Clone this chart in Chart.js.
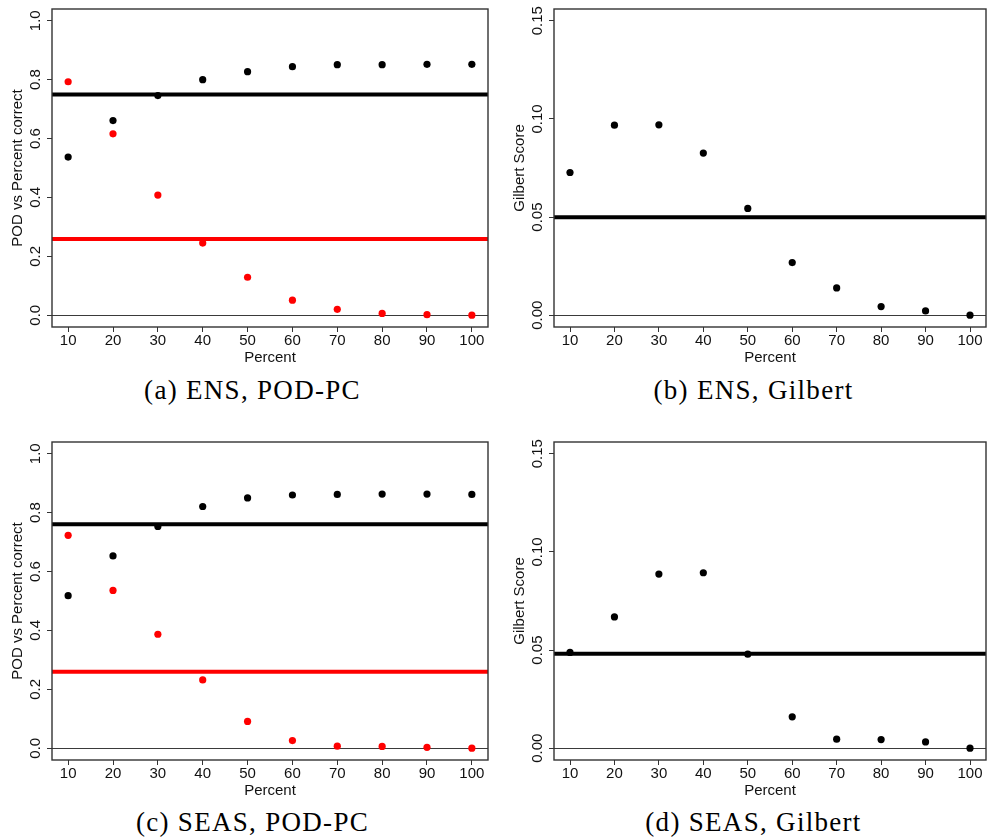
<!DOCTYPE html>
<html>
<head>
<meta charset="utf-8">
<script src="https://cdn.jsdelivr.net/npm/chart.js@4/dist/chart.umd.min.js"></script>
<style>
  html, body { margin: 0; padding: 0; background: #fff; }
  body { width: 990px; height: 837px; position: relative; overflow: hidden; }
  .panel { position: absolute; width: 495px; height: 372px; }
  .caption {
    position: absolute; width: 495px; text-align: center;
    font-family: "Liberation Serif", serif; font-size: 27px; letter-spacing: 1.3px;
    color: #000; line-height: 30px;
  }
</style>
</head>
<body>
<div class="panel" style="left:0;top:0"><canvas id="chartA" width="495" height="372"></canvas></div>
<div class="panel" style="left:495px;top:0"><canvas id="chartB" width="495" height="372"></canvas></div>
<div class="panel" style="left:0;top:433px"><canvas id="chartC" width="495" height="372"></canvas></div>
<div class="panel" style="left:495px;top:433px"><canvas id="chartD" width="495" height="372"></canvas></div>
<div class="caption" style="left:5px;top:375px">(a) ENS, POD-PC</div>
<div class="caption" style="left:506px;top:375px">(b) ENS, Gilbert</div>
<div class="caption" style="left:5px;top:807px">(c) SEAS, POD-PC</div>
<div class="caption" style="left:506px;top:807px">(d) SEAS, Gilbert</div>

<script>
// x categories (percent threshold)
const percents = [10, 20, 30, 40, 50, 60, 70, 80, 90, 100];

// ENS
const ensPC = [0.537, 0.661, 0.746, 0.800, 0.827, 0.844, 0.851, 0.851, 0.852, 0.852];
const ensPOD = [0.793, 0.616, 0.408, 0.245, 0.129, 0.051, 0.020, 0.006, 0.002, 0.000];
const ensPCRef = 0.750;
const ensPODRef = 0.259;
const ensGilbert = [0.0727, 0.0968, 0.0970, 0.0826, 0.0544, 0.0268, 0.0139, 0.0044, 0.0022, 0.0000];
const ensGilbertRef = 0.0499;

// SEAS
const seasPC = [0.518, 0.653, 0.753, 0.821, 0.850, 0.860, 0.862, 0.863, 0.863, 0.862];
const seasPOD = [0.723, 0.536, 0.387, 0.232, 0.091, 0.026, 0.007, 0.006, 0.003, 0.000];
const seasPCRef = 0.761;
const seasPODRef = 0.260;
const seasGilbert = [0.0488, 0.0669, 0.0887, 0.0894, 0.0479, 0.0160, 0.0046, 0.0044, 0.0032, 0.0000];
const seasGilbertRef = 0.0481;

// ticks
const xTicks = [10, 20, 30, 40, 50, 60, 70, 80, 90, 100];
const pcTicks = [0, 0.2, 0.4, 0.6, 0.8, 1.0];
const pcTickLabels = ['0.0', '0.2', '0.4', '0.6', '0.8', '1.0'];
const gilbertTicks = [0, 0.05, 0.10, 0.15];
const gilbertTickLabels = ['0.00', '0.05', '0.10', '0.15'];

const SANS = '"Liberation Sans", Arial, sans-serif';

function pts(values) {
  return values.map((v, i) => ({ x: percents[i], y: v }));
}

// R-style 4% axis extension
function extend(lo, hi) {
  const d = (hi - lo) * 0.04;
  return [lo - d, hi + d];
}

// box around plot region + horizontal reference lines + rotated y tick labels
const rPlot = {
  id: 'rPlot',
  beforeDatasetsDraw(chart, args, opts) {
    const { ctx, chartArea: a, scales: { y } } = chart;
    ctx.save();
    // thin zero line
    ctx.strokeStyle = '#3a3a3a';
    ctx.lineWidth = 1;
    let py = Math.round(y.getPixelForValue(0)) + 0.5;
    ctx.beginPath(); ctx.moveTo(a.left, py); ctx.lineTo(a.right, py); ctx.stroke();
    (opts.lines || []).forEach(l => {
      ctx.strokeStyle = l.color;
      ctx.lineWidth = 4;
      const p = y.getPixelForValue(l.value);
      ctx.beginPath(); ctx.moveTo(a.left, p); ctx.lineTo(a.right, p); ctx.stroke();
    });
    ctx.restore();
  },
  afterDraw(chart, args, opts) {
    const { ctx, chartArea: a, scales: { y } } = chart;
    ctx.save();
    ctx.strokeStyle = '#333';
    ctx.lineWidth = 1.4;
    ctx.strokeRect(a.left, a.top, a.right - a.left, a.bottom - a.top);
    ctx.fillStyle = '#111';
    ctx.font = '15px ' + SANS;
    ctx.textAlign = 'center';
    ctx.textBaseline = 'middle';
    y.ticks.forEach((t, i) => {
      const p = y.getPixelForValue(t.value);
      ctx.save();
      ctx.translate(a.left - 16, p);
      ctx.rotate(-Math.PI / 2);
      ctx.fillText(opts.tickLabels[i], 0, 0);
      ctx.restore();
    });
    ctx.restore();
  }
};

function makeChart(id, datasets, yTicks, yTickLabels, yTitle, lines, yWidth, rightPad, titlePad) {
  const [xmin, xmax] = extend(xTicks[0], xTicks[xTicks.length - 1]);
  const [ymin, ymax] = extend(yTicks[0], yTicks[yTicks.length - 1]);
  return new Chart(document.getElementById(id), {
    type: 'scatter',
    data: { datasets: datasets },
    options: {
      responsive: false,
      animation: false,
      layout: { padding: { top: 9, right: rightPad, bottom: 0, left: 0 } },
      plugins: {
        legend: { display: false },
        tooltip: { enabled: false },
        rPlot: { lines: lines, tickLabels: yTickLabels }
      },
      elements: { point: { radius: 3.6, borderWidth: 0 } },
      scales: {
        x: {
          type: 'linear', min: xmin, max: xmax,
          afterBuildTicks: s => { s.ticks = xTicks.map(v => ({ value: v })); },
          afterFit: s => { s.height = 45; },
          grid: { drawOnChartArea: false, drawTicks: true, tickLength: 5, color: '#333', lineWidth: 1 },
          border: { display: false },
          ticks: { color: '#111', font: { family: SANS, size: 15 }, padding: 0, maxRotation: 0, autoSkip: false,
                   callback: v => String(v) },
          title: { display: true, text: 'Percent', color: '#111', font: { family: SANS, size: 15 },
                   padding: { top: 0, bottom: 5 } }
        },
        y: {
          type: 'linear', min: ymin, max: ymax,
          afterBuildTicks: s => { s.ticks = yTicks.map(v => ({ value: v })); },
          afterFit: s => { s.width = yWidth; },
          grid: { drawOnChartArea: false, drawTicks: true, tickLength: 5, color: '#333', lineWidth: 1 },
          border: { display: false },
          ticks: { display: false },
          title: { display: true, text: yTitle, color: '#111', font: { family: SANS, size: 15 },
                   padding: { top: titlePad, bottom: 0 } }
        }
      }
    },
    plugins: [rPlot]
  });
}

makeChart('chartA', [
  { data: pts(ensPC), backgroundColor: '#000' },
  { data: pts(ensPOD), backgroundColor: '#ff0000' }
], pcTicks, pcTickLabels, 'POD vs Percent correct',
  [{ value: ensPCRef, color: '#000' }, { value: ensPODRef, color: '#ff0000' }], 52, 7, 9);

makeChart('chartB', [
  { data: pts(ensGilbert), backgroundColor: '#000' }
], gilbertTicks, gilbertTickLabels, 'Gilbert Score',
  [{ value: ensGilbertRef, color: '#000' }], 59, 1, 16);

makeChart('chartC', [
  { data: pts(seasPC), backgroundColor: '#000' },
  { data: pts(seasPOD), backgroundColor: '#ff0000' }
], pcTicks, pcTickLabels, 'POD vs Percent correct',
  [{ value: seasPCRef, color: '#000' }, { value: seasPODRef, color: '#ff0000' }], 52, 7, 9);

makeChart('chartD', [
  { data: pts(seasGilbert), backgroundColor: '#000' }
], gilbertTicks, gilbertTickLabels, 'Gilbert Score',
  [{ value: seasGilbertRef, color: '#000' }], 59, 1, 16);
</script>
</body>
</html>
